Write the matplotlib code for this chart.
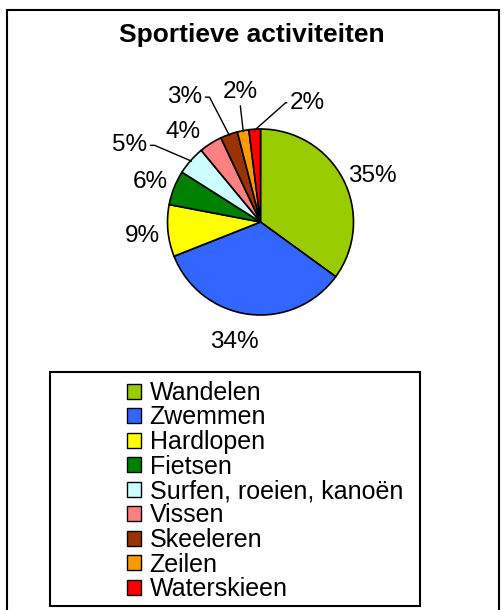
import numpy as np
import matplotlib
matplotlib.use("Agg")
import matplotlib.pyplot as plt
from matplotlib.patches import Rectangle, Patch

categories = ["Wandelen", "Zwemmen", "Hardlopen", "Fietsen", "Surfen, roeien, kanoën",
              "Vissen", "Skeeleren", "Zeilen", "Waterskieen"]
values = [35, 34, 9, 6, 5, 4, 3, 2, 2]
labels = ["35%", "34%", "9%", "6%", "5%", "4%", "3%", "2%", "2%"]
colors = ["#99CC00", "#3366FF", "#FFFF00", "#008000", "#CCFFFF",
          "#FF8080", "#993300", "#FF9900", "#FF0000"]

# label layout: (angle offset from wedge middle in degrees, radius factor, leader style)
label_layout = [(-3.5, 1.31, None), (-5.4, 1.30, None), (0, 1.28, None), (0.6, 1.27, None),
                (10.2, 1.64, "right"), (7.6, 1.29, None), (10.9, 1.59, "right"),
                (-2.0, 1.44, "bottom"), (-24.6, 1.40, "left")]

plt.rcParams['font.family'] = ['Liberation Sans', 'DejaVu Sans']
W, H = 504, 610
fig = plt.figure(figsize=(W / 100, H / 100), dpi=100)

R = 93.0
cx, cy = 260.5, 222.0
ax = fig.add_axes([(cx - 2 * R) / W, (H - cy - 2 * R) / H, 4 * R / W, 4 * R / H])
ax.axis('off')

wedges, _ = ax.pie(values, colors=colors, startangle=90, counterclock=False, radius=1,
                   wedgeprops=dict(edgecolor='black', linewidth=1.2))
ax.set_xlim(-2, 2)
ax.set_ylim(-2, 2)
ax.set_aspect('equal')

fs = 17.5
dy_fix = -0.025
for w, lab, (doff, rf, lead) in zip(wedges, labels, label_layout):
    mid = np.deg2rad((w.theta1 + w.theta2) / 2)
    ang = mid + np.deg2rad(doff)
    tx, ty = rf * np.cos(ang), rf * np.sin(ang) + dy_fix
    if lead is None:
        ax.text(tx, ty, lab, ha='center', va='center', fontsize=fs, clip_on=False)
    else:
        ex, ey = np.cos(mid), np.sin(mid)
        if lead == "right":
            rel, cs = (1, 0.5), "arc,angleA=0,armA=7,angleB=0,armB=0,rad=0"
        elif lead == "left":
            rel, cs = (0, 0.5), "arc,angleA=180,armA=4,angleB=0,armB=0,rad=0"
        else:
            rel, cs = (0.5, 0.0), "arc3,rad=0"
        ax.annotate(lab, xy=(ex * 0.99, ey * 0.99), xytext=(tx, ty), ha='center', va='center',
                    fontsize=fs, annotation_clip=False,
                    arrowprops=dict(arrowstyle='-', color='black', lw=1.0, shrinkA=0, shrinkB=0,
                                    relpos=rel, connectionstyle=cs))

fig.text(0.5, 1 - 35 / H, "Sportieve activiteiten", ha='center', va='center',
         fontsize=19, fontweight='bold')

# outer border
fig.add_artist(Rectangle((7 / W, -0.02), (499 - 7) / W, 1.02 - 10 / H, transform=fig.transFigure,
                         fill=False, edgecolor='black', linewidth=1.5))
# legend frame
fig.add_artist(Rectangle((50 / W, (H - 606) / H), (420 - 50) / W, (606 - 372) / H,
                         transform=fig.transFigure, fill=False, edgecolor='black', linewidth=1.5))

handles = [Patch(facecolor=c, edgecolor='black', linewidth=1.0) for c in colors]
fig.legend(handles, categories, loc='upper left', bbox_to_anchor=(127 / W, 1 - 381 / H),
           frameon=False, fontsize=18, borderpad=0, borderaxespad=0, handlelength=0.55,
           handleheight=0.55, handletextpad=0.35, labelspacing=0.02)

fig.savefig("out.png", dpi=100)
